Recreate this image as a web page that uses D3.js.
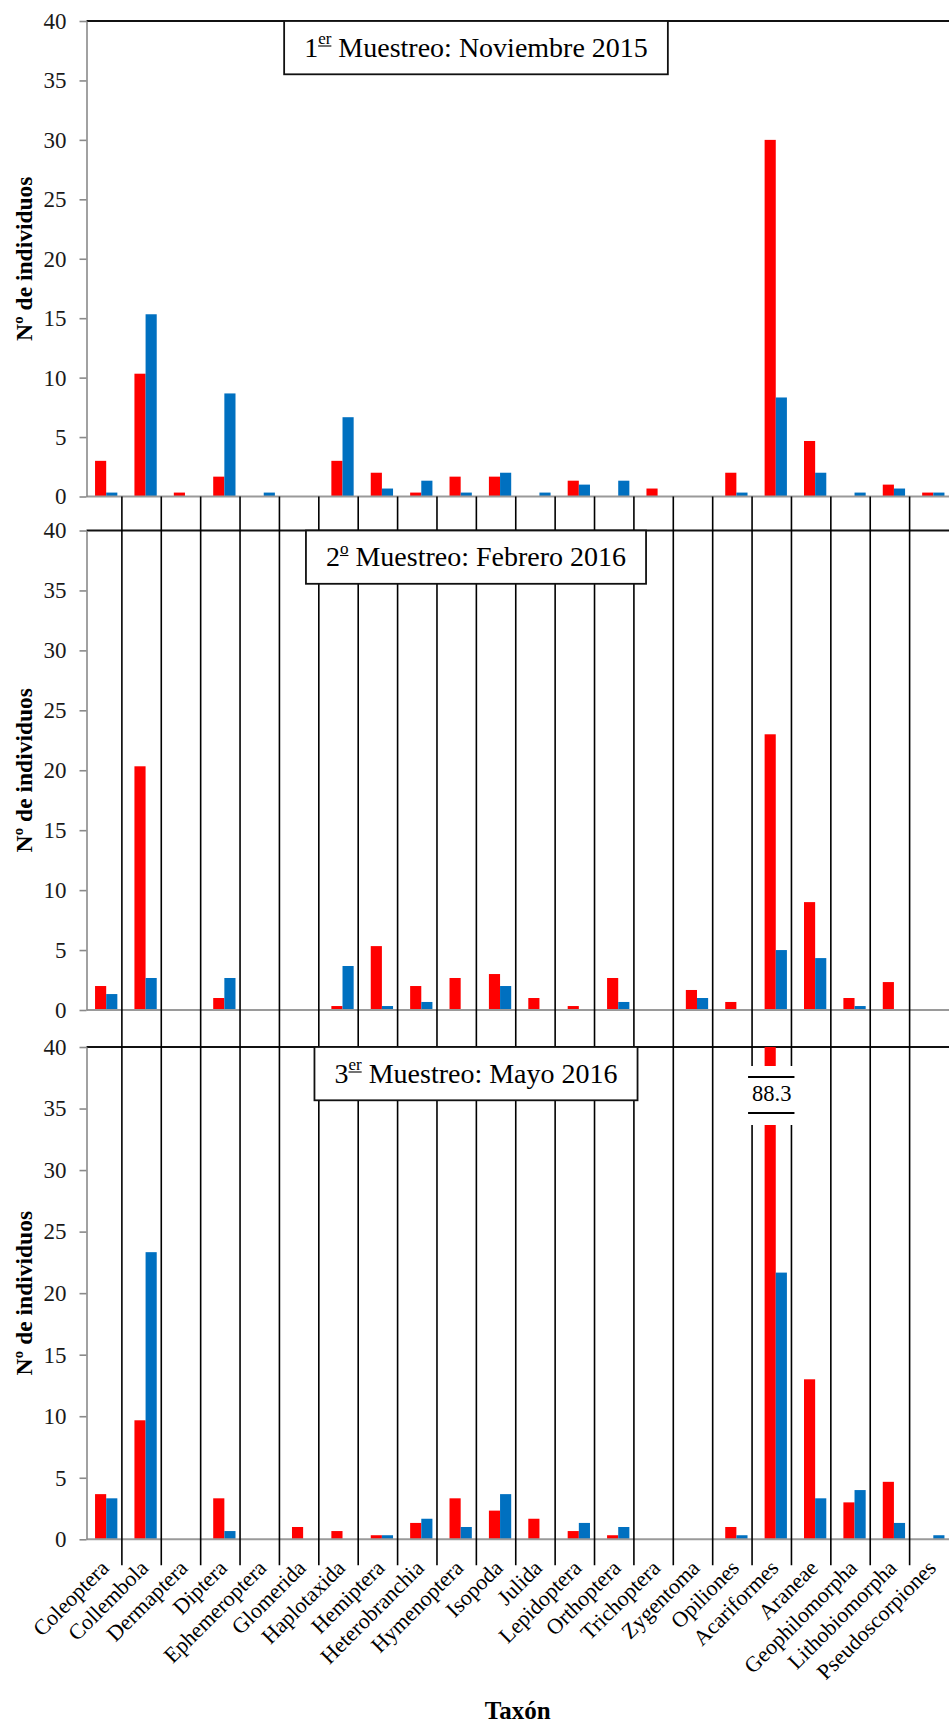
<!DOCTYPE html>
<html>
<head>
<meta charset="utf-8">
<script src="https://cdn.jsdelivr.net/npm/d3@7"></script>
<style>
  html, body { margin: 0; padding: 0; background: #fff; }
  svg { display: block; }
  text { font-family: "Liberation Serif", "Times New Roman", serif; }
</style>
</head>
<body>
<svg id="chart" width="949" height="1724"></svg>
<script>
// Taxa on the shared category axis
const taxa = ["Coleoptera", "Collembola", "Dermaptera", "Diptera", "Ephemeroptera",
  "Glomerida", "Haplotaxida", "Hemiptera", "Heterobranchia", "Hymenoptera", "Isopoda",
  "Julida", "Lepidoptera", "Orthoptera", "Trichoptera", "Zygentoma", "Opiliones",
  "Acariformes", "Araneae", "Geophilomorpha", "Lithobiomorpha", "Pseudoscorpiones"];

const yTicks = [0, 5, 10, 15, 20, 25, 30, 35, 40];

// 1er muestreo: noviembre 2015
const nov2015Rojo = [3, 10.33, 0.33, 1.67, 0, 0, 3, 2, 0.33, 1.67, 1.67, 0, 1.33, 0, 0.67, 0, 2, 30, 4.67, 0, 1, 0.33];
const nov2015Azul = [0.33, 15.33, 0, 8.67, 0.33, 0, 6.67, 0.67, 1.33, 0.33, 2, 0.33, 1, 1.33, 0, 0, 0.33, 8.33, 2, 0.33, 0.67, 0.33];

// 2º muestreo: febrero 2016
const feb2016Rojo = [2, 20.33, 0, 1, 0, 0, 0.33, 5.33, 2, 2.67, 3, 1, 0.33, 2.67, 0, 1.67, 0.67, 23, 9, 1, 2.33, 0];
const feb2016Azul = [1.33, 2.67, 0, 2.67, 0, 0, 3.67, 0.33, 0.67, 0, 2, 0, 0, 0.67, 0, 1, 0, 5, 4.33, 0.33, 0, 0];

// 3er muestreo: mayo 2016 (Acariformes sobrepasa el eje: 88.3)
const may2016Rojo = [3.67, 9.67, 0, 3.33, 0, 1, 0.67, 0.33, 1.33, 3.33, 2.33, 1.67, 0.67, 0.33, 0, 0, 1, 88.3, 13, 3, 4.67, 0];
const may2016Azul = [3.33, 23.33, 0, 0.67, 0, 0, 0, 0.33, 1.67, 1, 3.67, 0, 1.33, 1, 0, 0, 0.33, 21.67, 3.33, 4, 1.33, 0.33];

const seriesKeys = ["rojo", "azul"];
const colors = { rojo: "#FF0000", azul: "#0070C0" };

const panels = [
  { num: "1", sup: "er", rest: " Muestreo: Noviembre 2015", rojo: nov2015Rojo, azul: nov2015Azul, top: 21, zero: 496.5 },
  { num: "2", sup: "o",  rest: " Muestreo: Febrero 2016",   rojo: feb2016Rojo, azul: feb2016Azul, top: 530.5, zero: 1010 },
  { num: "3", sup: "er", rest: " Muestreo: Mayo 2016",      rojo: may2016Rojo, azul: may2016Azul, top: 1047, zero: 1539.3 }
];

const W = 949;
const x0 = 86.5;
const svg = d3.select("#chart");

const x = d3.scaleBand().domain(taxa).range([x0, 953]).paddingInner(0).paddingOuter(0);
const bw = x.bandwidth();
const xs = d3.scaleBand().domain(seriesKeys).range([bw * 0.217, bw * 0.783]);

panels.forEach(p => {
  const y = d3.scaleLinear().domain([0, 40]).range([p.zero, p.top]).clamp(true);
  const g = svg.append("g");

  // plot top border
  g.append("line")
    .attr("x1", x0).attr("x2", W)
    .attr("y1", y(40)).attr("y2", y(40))
    .attr("stroke", "#111").attr("stroke-width", 2);

  // bars
  const rows = taxa.map((t, i) => ({ taxon: t, rojo: p.rojo[i], azul: p.azul[i] }));
  const grp = g.append("g").selectAll("g").data(rows).join("g")
    .attr("transform", d => `translate(${x(d.taxon)},0)`);
  grp.selectAll("rect")
    .data(d => seriesKeys.map(k => ({ key: k, value: d[k] })).filter(v => v.value > 0))
    .join("rect")
    .attr("x", d => xs(d.key))
    .attr("width", xs.bandwidth())
    .attr("y", d => y(d.value))
    .attr("height", d => y(0) - y(d.value))
    .attr("fill", d => colors[d.key]);

  // category axis line at zero
  g.append("line")
    .attr("x1", x0).attr("x2", W)
    .attr("y1", y(0)).attr("y2", y(0))
    .attr("stroke", "#9a9a9a").attr("stroke-width", 2);

  // value axis
  const ax = g.append("g")
    .attr("transform", `translate(${x0},0)`)
    .call(d3.axisLeft(y).tickValues(yTicks).tickSize(7).tickSizeOuter(0).tickPadding(13));
  ax.attr("font-family", null);
  ax.select(".domain").attr("stroke", "#8a8a8a").attr("stroke-width", 1.6);
  ax.selectAll(".tick line").attr("stroke", "#8a8a8a").attr("stroke-width", 1.6);
  ax.selectAll(".tick text")
    .attr("font-size", 23).attr("fill", "#1a1a1a");

  // value axis title
  g.append("text")
    .attr("transform", `translate(32,${(y(0) + y(40)) / 2}) rotate(-90)`)
    .attr("text-anchor", "middle")
    .attr("font-size", 23.5).attr("font-weight", "bold").attr("fill", "#000")
    .text("Nº de individuos");
});

// divider lines between taxa, running from the first panel's axis down past the last one
const dividerX = i => x(taxa[i]) - 4;
const divTop = panels[0].zero;
const divBottom = panels[2].zero + 26;
svg.append("g").selectAll("line")
  .data(d3.range(1, taxa.length))
  .join("line")
  .attr("x1", dividerX).attr("x2", dividerX)
  .attr("y1", divTop).attr("y2", divBottom)
  .attr("stroke", "#000").attr("stroke-width", 1.6);

// sampling titles in boxes
const titleCx = 476;
panels.forEach(p => {
  const g = svg.append("g");
  const box = g.append("rect");
  const t = g.append("text")
    .attr("x", titleCx).attr("y", p.top + 35.7)
    .attr("text-anchor", "middle")
    .attr("font-size", 28).attr("fill", "#000");
  t.append("tspan").text(p.num);
  t.append("tspan").attr("font-size", 17).attr("dy", -12.5).text(p.sup);
  t.append("tspan").attr("dy", 12.5).text(p.rest);
  const node = t.node();
  const tw = node.getComputedTextLength();
  const n1 = p.num.length, n2 = p.sup.length;
  const sx0 = node.getStartPositionOfChar(n1).x;
  const sx1 = node.getEndPositionOfChar(n1 + n2 - 1).x;
  g.append("line")
    .attr("x1", sx0).attr("x2", sx1)
    .attr("y1", p.top + 25).attr("y2", p.top + 25)
    .attr("stroke", "#000").attr("stroke-width", 1.1);
  box.attr("x", titleCx - tw / 2 - 20).attr("y", p.top)
    .attr("width", tw + 40).attr("height", 53.3)
    .attr("fill", "#fff").attr("stroke", "#111").attr("stroke-width", 1.8);
});

// axis break for the Acariformes bar in the third sampling
{
  const p = panels[2];
  const i = taxa.indexOf("Acariformes");
  const bx0 = dividerX(i), bx1 = dividerX(i + 1);
  const g = svg.append("g");
  g.append("rect")
    .attr("x", bx0 - 5).attr("width", bx1 - bx0 + 10)
    .attr("y", p.top + 19).attr("height", 59)
    .attr("fill", "#fff");
  [30, 66].forEach(dy => {
    g.append("line")
      .attr("x1", bx0 - 4).attr("x2", bx1 + 3)
      .attr("y1", p.top + dy).attr("y2", p.top + dy)
      .attr("stroke", "#000").attr("stroke-width", 2);
  });
  g.append("text")
    .attr("x", (bx0 + bx1) / 2).attr("y", p.top + 54)
    .attr("text-anchor", "middle")
    .attr("font-size", 22.5).attr("fill", "#000")
    .text(d3.format(".1f")(p.rojo[i]));
}

// taxon labels under the last panel
const pl = panels[2];
svg.append("g").selectAll("text")
  .data(taxa)
  .join("text")
  .attr("transform", d => `translate(${x(d) + bw / 2 + 4},${pl.zero + 30}) rotate(-45)`)
  .attr("text-anchor", "end")
  .attr("font-size", 22).attr("fill", "#000")
  .text(d => d);

svg.append("text")
  .attr("x", (x0 + W) / 2).attr("y", 1719)
  .attr("text-anchor", "middle")
  .attr("font-size", 25).attr("font-weight", "bold").attr("fill", "#000")
  .text("Taxón");
</script>
</body>
</html>
